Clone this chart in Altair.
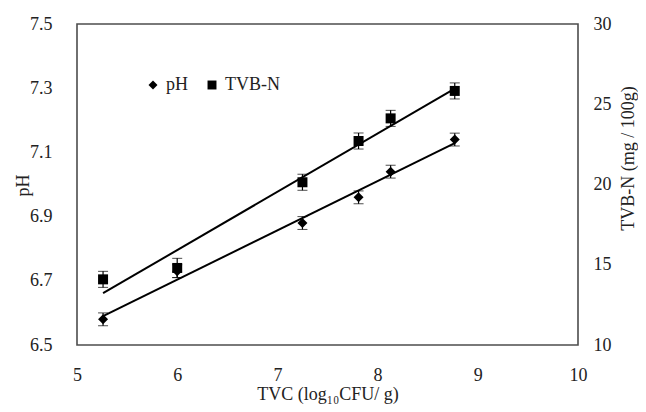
import altair as alt
import pandas as pd

# ---- data ----
tvc = [5.26, 6.00, 7.25, 7.81, 8.13, 8.77]
ph = [6.58, 6.73, 6.88, 6.96, 7.04, 7.14]
ph_err = [0.02, 0.02, 0.02, 0.02, 0.02, 0.02]
tvbn = [14.09, 14.80, 20.14, 22.71, 24.12, 25.83]
tvbn_err = [0.5, 0.6, 0.5, 0.5, 0.5, 0.5]
series = ["pH", "TVB-N"]
x_ticks = [5, 6, 7, 8, 9, 10]
ph_ticks = [6.5, 6.7, 6.9, 7.1, 7.3, 7.5]
tvbn_ticks = [10, 15, 20, 25, 30]

df_ph = pd.DataFrame({
    "tvc": tvc,
    "v": ph,
    "lo": [a - b for a, b in zip(ph, ph_err)],
    "hi": [a + b for a, b in zip(ph, ph_err)],
    "series": "pH",
})
df_tv = pd.DataFrame({
    "tvc": tvc,
    "v": tvbn,
    "lo": [a - b for a, b in zip(tvbn, tvbn_err)],
    "hi": [a + b for a, b in zip(tvbn, tvbn_err)],
    "series": "TVB-N",
})

FONT = "Liberation Serif, DejaVu Serif, serif"
TXT = "#222222"
FS = 18

x_enc = alt.X(
    "tvc:Q",
    scale=alt.Scale(domain=[5, 10], nice=False, zero=False),
    axis=alt.Axis(
        values=x_ticks, title="TVC (log₁₀CFU/ g)", ticks=False, domain=False,
        grid=False, labelFlush=False, labelPadding=21, labelFontSize=FS,
        labelFont=FONT, labelColor=TXT,
        titleFontSize=FS, titleFont=FONT, titleColor=TXT, titleFontWeight="normal",
        titleY=54, titleBaseline="alphabetic",
    ),
)

ph_scale = alt.Scale(domain=[6.5, 7.5], nice=False, zero=False)
ph_axis = alt.Axis(
    values=ph_ticks, format=".1f", title="pH", ticks=False, domain=False, grid=False,
    labelFlush=False, labelPadding=25, labelFontSize=FS, labelFont=FONT, labelColor=TXT,
    titleFontSize=FS, titleFont=FONT, titleColor=TXT, titleFontWeight="normal",
    titleX=-54, titleY=161, titleBaseline="middle", titleAlign="center", titleAngle=270,
)

tv_scale = alt.Scale(domain=[10, 30], nice=False, zero=False)
tv_axis = alt.Axis(
    orient="right", values=tvbn_ticks, title="TVB-N (mg / 100g)", ticks=False,
    domain=False, grid=False, labelFlush=False, labelPadding=15, labelFontSize=FS,
    labelFont=FONT, labelColor=TXT, titleFontSize=FS, titleFont=FONT, titleColor=TXT,
    titleFontWeight="normal", titleX=50, titleY=134, titleBaseline="middle",
    titleAlign="center", titleAngle=270,
)

shape_enc = alt.Shape(
    "series:N",
    scale=alt.Scale(domain=series, range=["diamond", "square"]),
    legend=alt.Legend(
        title=None, orient="none", direction="horizontal", legendX=67, legendY=52,
        padding=0, labelFont=FONT, labelFontSize=FS, labelColor=TXT, labelOffset=4,
        columnPadding=15, symbolFillColor="black", symbolStrokeColor="black",
        symbolSize=80, symbolStrokeWidth=0,
    ),
)


def layer_for(df, scale, axis, size):
    y = alt.Y("v:Q", scale=scale, axis=axis)
    line = alt.Chart(df).transform_regression("tvc", "v").mark_line(
        color="black", strokeWidth=2
    ).encode(x=x_enc, y=y)
    err = alt.Chart(df).mark_errorbar(
        ticks={"size": 10, "color": "black", "strokeWidth": 1.2},
        rule={"color": "black", "strokeWidth": 1.2},
        color="black",
    ).encode(
        x=x_enc,
        y=alt.Y("lo:Q", scale=scale, axis=axis),
        y2="hi:Q",
    )
    pts = alt.Chart(df).mark_point(
        filled=True, color="black", opacity=1, size=size, strokeWidth=0
    ).encode(x=x_enc, y=y, shape=shape_enc)
    return alt.layer(line, err, pts)


ph_layer = layer_for(df_ph, ph_scale, ph_axis, 100)
tv_layer = layer_for(df_tv, tv_scale, tv_axis, 100)

chart = alt.layer(ph_layer, tv_layer).resolve_scale(y="independent").properties(
    width=501,
    height=321,
    autosize=alt.AutoSizeParams(type="none"),
    padding={"left": 69, "top": 16, "right": 60, "bottom": 59},
    background="white",
).configure_view(stroke="#4d4d4d", strokeWidth=1.6)

chart.save("out.html", embed_options={"renderer": "svg", "actions": False})
